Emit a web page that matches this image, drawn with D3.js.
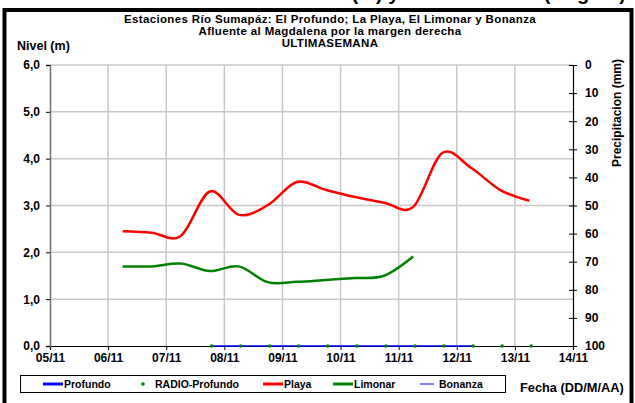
<!DOCTYPE html>
<html>
<head>
<meta charset="utf-8" />
<title>Sumapaz</title>
<style>
  body { margin: 0; background: #fff; }
  text { font-family: "Liberation Sans", Arial, sans-serif; font-weight: bold; fill: #000; }
</style>
</head>
<body>
<div id="chart"></div>
<script src="https://d3js.org/d3.v7.min.js"></script>
<script>
// day number of november (5 = 05/11)
const playaDias = [6.25, 6.75, 7.25, 7.75, 8.25, 8.75, 9.25, 9.75, 10.25, 10.75, 11.25, 11.75, 12.25, 12.75, 13.25];
const playaNivel = [2.45, 2.42, 2.35, 3.30, 2.80, 3.01, 3.50, 3.33, 3.18, 3.06, 2.97, 4.12, 3.80, 3.33, 3.10];

const limonarDias = [6.25, 6.75, 7.25, 7.75, 8.25, 8.75, 9.25, 9.75, 10.25, 10.75, 11.25];
const limonarNivel = [1.70, 1.70, 1.76, 1.60, 1.70, 1.36, 1.37, 1.41, 1.45, 1.50, 1.91];

const radioDias = [7.78, 8.28, 8.78, 9.28, 9.78, 10.28, 10.78, 11.28, 11.78, 12.28, 12.78, 13.28];
const radioNivel = [0, 0, 0, 0, 0, 0, 0, 0, 0, 0, 0, 0];

const profundoDias = [7.78, 8.28, 8.78, 9.28, 9.78, 10.28, 10.78, 11.28, 11.78, 12.28];
const profundoNivel = [0, 0, 0, 0, 0, 0, 0, 0, 0, 0];

const diasTicks = [5, 6, 7, 8, 9, 10, 11, 12, 13, 14];
const nivelTicks = [0, 1, 2, 3, 4, 5, 6];
const precTicks = [0, 10, 20, 30, 40, 50, 60, 70, 80, 90, 100];

const titulo = ["Estaciones Río Sumapáz: El Profundo; La Playa, El Limonar y Bonanza",
                "Afluente al Magdalena por la margen derecha",
                "ULTIMASEMANA"];

const width = 635, height = 403;
const mLeft = 50, mRight = 573, mTop = 65, mBottom = 346;

const svg = d3.select("#chart").append("svg")
  .attr("width", width).attr("height", height);

svg.append("rect").attr("width", width).attr("height", height).attr("fill", "#fff");

const x = d3.scaleLinear().domain([5, 14]).range([mLeft, mRight]);
const y = d3.scaleLinear().domain([0, 6]).range([mBottom, mTop]);
const yP = d3.scaleLinear().domain([0, 100]).range([mTop, mBottom]);

// heading above the frame, only its lowest part falls inside the picture
svg.append("text")
  .attr("x", 626).attr("y", -0.5)
  .attr("text-anchor", "end")
  .style("font-size", "20px")
  .text("Niveles (m) y Lectura Diaria (Bogotá)");

// outer frame
svg.append("rect")
  .attr("x", 4.5).attr("y", 10).attr("width", 627).attr("height", 420)
  .attr("fill", "none").attr("stroke", "#000").attr("stroke-width", 4);

// grid
svg.append("g").selectAll("line")
  .data(diasTicks.slice(1, -1))
  .join("line")
  .attr("x1", d => x(d)).attr("x2", d => x(d))
  .attr("y1", mTop).attr("y2", mBottom)
  .attr("stroke", "#c8c8c8").attr("stroke-width", 1.5);

svg.append("g").selectAll("line")
  .data(nivelTicks.slice(1))
  .join("line")
  .attr("x1", mLeft).attr("x2", mRight)
  .attr("y1", d => y(d)).attr("y2", d => y(d))
  .attr("stroke", "#c8c8c8").attr("stroke-width", 1.5);

// axes
const fmtDia = d => String(d).padStart(2, "0") + "/11";
const fmtNivel = d => d3.format(".1f")(d).replace(".", ",");

const gx = svg.append("g").attr("transform", `translate(0,${mBottom})`)
  .call(d3.axisBottom(x).tickValues(diasTicks).tickFormat(fmtDia).tickSize(4).tickPadding(3));
const gy = svg.append("g").attr("transform", `translate(${mLeft},0)`)
  .call(d3.axisLeft(y).tickValues(nivelTicks).tickFormat(fmtNivel).tickSize(4).tickPadding(6));
const gp = svg.append("g").attr("transform", `translate(${mRight},0)`)
  .call(d3.axisRight(yP).tickValues(precTicks).tickSize(4).tickPadding(8));

[gx, gy, gp].forEach(g => {
  g.select(".domain").attr("stroke", "#000").attr("stroke-width", 1.2);
  g.selectAll(".tick line").attr("stroke", "#000");
  g.selectAll(".tick text").style("font-size", "12px")
    .style("font-family", "'Liberation Sans', Arial, sans-serif").style("font-weight", "bold");
});
gy.select(".domain").attr("stroke", "#707070").attr("stroke-width", 1.5);
gp.selectAll(".tick line").attr("x1", -4);

// series
const curva = d3.line().curve(d3.curveCatmullRom.alpha(0)).x(d => x(d[0])).y(d => y(d[1]));

svg.append("path").datum(d3.zip(profundoDias, profundoNivel))
  .attr("d", d3.line().x(d => x(d[0])).y(d => y(d[1])))
  .attr("fill", "none").attr("stroke", "#0000ff").attr("stroke-width", 1.5);

svg.append("g").selectAll("circle")
  .data(d3.zip(radioDias, radioNivel))
  .join("circle")
  .attr("cx", d => x(d[0])).attr("cy", d => y(d[1])).attr("r", 1.8)
  .attr("fill", "#008000");

svg.append("path").datum(d3.zip(playaDias, playaNivel))
  .attr("d", curva)
  .attr("fill", "none").attr("stroke", "#ff0000").attr("stroke-width", 2.5);

svg.append("path").datum(d3.zip(limonarDias, limonarNivel))
  .attr("d", curva)
  .attr("fill", "none").attr("stroke", "#008000").attr("stroke-width", 2.5);

// titles
svg.append("g").selectAll("text")
  .data(titulo)
  .join("text")
  .attr("x", 330).attr("y", (d, i) => 22.5 + i * 12)
  .attr("text-anchor", "middle")
  .style("font-size", "11.5px")
  .style("letter-spacing", "0.35px")
  .text(d => d);

svg.append("text").attr("x", 17).attr("y", 50).style("font-size", "12.5px").text("Nivel (m)");

svg.append("text")
  .attr("transform", `translate(621,113) rotate(-90)`)
  .attr("text-anchor", "middle")
  .style("font-size", "12px")
  .text("Precipitacion (mm)");

svg.append("text").attr("x", 520).attr("y", 392).style("font-size", "12.8px").text("Fecha (DD/M/AA)");

// legend
const leyenda = svg.append("g");
leyenda.append("rect")
  .attr("x", 20.5).attr("y", 375.5).attr("width", 485).attr("height", 17)
  .attr("fill", "#fff").attr("stroke", "#000").attr("stroke-width", 1);

const items = [
  { nombre: "Profundo", tipo: "line", color: "#0000ff", w: 3, x0: 43, x1: 63, tx: 64 },
  { nombre: "RADIO-Profundo", tipo: "dot", color: "#008000", x0: 143, tx: 155 },
  { nombre: "Playa", tipo: "line", color: "#ff0000", w: 3, x0: 263, x1: 283, tx: 284 },
  { nombre: "Limonar", tipo: "line", color: "#008000", w: 3, x0: 333, x1: 353, tx: 354 },
  { nombre: "Bonanza", tipo: "line", color: "#0000ff", w: 1, x0: 420, x1: 434, tx: 439 }
];
items.forEach(it => {
  if (it.tipo === "line") {
    leyenda.append("line").attr("x1", it.x0).attr("x2", it.x1).attr("y1", 384).attr("y2", 384)
      .attr("stroke", it.color).attr("stroke-width", it.w);
  } else {
    leyenda.append("circle").attr("cx", it.x0).attr("cy", 384).attr("r", 1.8).attr("fill", it.color);
  }
  leyenda.append("text").attr("x", it.tx).attr("y", 388).style("font-size", "10.5px").text(it.nombre);
});
</script>
</body>
</html>
